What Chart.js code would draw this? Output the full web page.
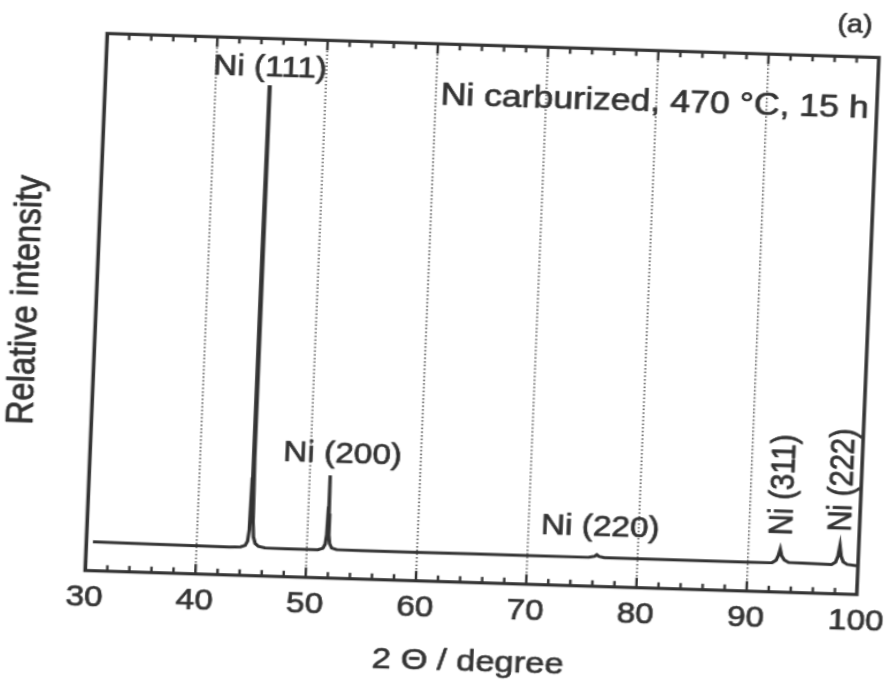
<!DOCTYPE html>
<html>
<head>
<meta charset="utf-8">
<script src="https://cdn.jsdelivr.net/npm/chart.js@4.4.1/dist/chart.umd.min.js"></script>
<style>
  html, body { margin: 0; padding: 0; background: #fff; width: 890px; height: 692px; overflow: hidden; }
  #wrap {
    position: absolute; left: 66.75px; top: -6px; width: 790px; height: 692px;
    transform-origin: 415px 320px;
    transform: scaleX(1.15) rotate(2.05deg);
  }
</style>
</head>
<body>
<div id="wrap"><canvas id="xrd" width="790" height="692"></canvas></div>
<script>
// XRD pattern of carburized Ni: 2θ (degree) and relative intensity (%)
const twoTheta = [
  30.6, 33, 36, 40, 43, 44.0, 44.4, 44.6, 44.72, 44.8, 44.84, 44.88, 44.93, 44.98, 45.04, 45.12, 45.3, 45.6, 46.2,
  48, 50, 51.0, 51.45, 51.65, 51.75, 51.81, 51.85, 51.89, 51.95, 52.05, 52.25, 52.7,
  55, 60, 65, 70, 75.6, 76.1, 76.3, 76.5, 77.0, 80, 85, 90,
  92.2, 92.55, 92.75, 92.9, 93.05, 93.3, 93.7,
  97.6, 97.95, 98.15, 98.3, 98.45, 98.65, 99.0, 99.9
];
const intensity = [
  5.4, 5.35, 5.3, 5.25, 5.2, 5.3, 5.6, 6.4, 8.5, 18, 60, 91.3, 62, 22, 10, 7.2, 6.0, 5.5, 5.25,
  5.2, 5.2, 5.2, 5.5, 6.3, 8.0, 13, 19.1, 12, 8.0, 6.4, 5.6, 5.35,
  5.3, 5.3, 5.35, 5.35, 5.4, 5.6, 5.9, 5.6, 5.4, 5.4, 5.4, 5.4,
  5.45, 5.9, 6.8, 8.0, 6.8, 6.0, 5.55,
  5.45, 5.9, 7.0, 9.0, 7.0, 6.0, 5.55, 5.35
];

// Reflections labelled on the pattern
const peakNames = ['Ni (111)', 'Ni (200)', 'Ni (220)', 'Ni (311)', 'Ni (222)'];
const peakTheta = [44.88, 51.85, 76.3, 92.9, 98.3];
const peakHeight = [91.3, 19.1, 5.9, 8.0, 9.0];

// Axis settings
const xMin = 30, xMax = 100, xMajorStep = 10, xMinorStep = 2;
const yMin = 0, yMax = 100;

const sampleLabel = 'Ni carburized, 470 °C, 15 h';
const panelLabel = '(a)';
const xTitle = '2 Θ / degree';
const yTitle = 'Relative intensity';

const INK = '#333333';
const FONT = '"Liberation Sans", Arial, Helvetica, sans-serif';
const TEXT_STROKE = 0.7;

const points = twoTheta.map((t, i) => ({ x: t, y: intensity[i] }));

// fill text and thicken it slightly with a matching stroke
function inkText(ctx, s, x, y) {
  ctx.fillText(s, x, y);
  ctx.strokeText(s, x, y);
}

const decor = {
  id: 'decor',
  beforeDatasetsDraw(chart) {
    const { ctx, chartArea: a, scales: { x } } = chart;
    ctx.save();
    ctx.strokeStyle = '#444';
    ctx.lineWidth = 1.4;
    ctx.setLineDash([1.5, 2.2]);
    for (let v = xMin + xMajorStep; v < xMax; v += xMajorStep) {
      const px = x.getPixelForValue(v);
      ctx.beginPath();
      ctx.moveTo(px, a.bottom);
      ctx.lineTo(px, a.top);
      ctx.stroke();
    }
    ctx.restore();
  },
  afterDraw(chart) {
    const { ctx, chartArea: a, scales: { x, y } } = chart;
    ctx.save();
    // inward tick marks on bottom and top axes
    ctx.strokeStyle = INK;
    ctx.lineWidth = 2.2;
    for (let v = xMin; v <= xMax + 1e-9; v += xMinorStep) {
      const px = x.getPixelForValue(v);
      const len = (v % xMajorStep === 0) ? 10 : 6;
      ctx.beginPath();
      ctx.moveTo(px, a.bottom); ctx.lineTo(px, a.bottom - len);
      ctx.moveTo(px, a.top); ctx.lineTo(px, a.top + len);
      ctx.stroke();
    }
    // frame
    ctx.lineWidth = 3.2;
    ctx.strokeRect(a.left, a.top, a.right - a.left, a.bottom - a.top);

    ctx.fillStyle = INK;
    ctx.strokeStyle = INK;
    ctx.lineWidth = TEXT_STROKE;
    ctx.lineJoin = 'round';
    ctx.textBaseline = 'middle';

    // peak labels
    const lx = i => x.getPixelForValue(peakTheta[i]);
    const ly = i => y.getPixelForValue(peakHeight[i]);
    ctx.font = '29px ' + FONT;
    ctx.textAlign = 'center';
    inkText(ctx, peakNames[0], lx(0), ly(0) - 17);
    inkText(ctx, peakNames[1], lx(1) + 10, ly(1) - 21);
    inkText(ctx, peakNames[2], lx(2) + 2, ly(2) - 27);
    for (const i of [3, 4]) {
      ctx.save();
      ctx.translate(lx(i) + 1, ly(i) - 14);
      ctx.rotate(-Math.PI / 2);
      ctx.textAlign = 'left';
      inkText(ctx, peakNames[i], 0, 0);
      ctx.restore();
    }

    // sample description
    ctx.font = '31px ' + FONT;
    ctx.textAlign = 'right';
    inkText(ctx, sampleLabel, a.right - 7, a.top + 52);

    // panel letter
    ctx.font = '25px ' + FONT;
    ctx.textAlign = 'center';
    inkText(ctx, panelLabel, a.right - 22, a.top - 31);

    // axis titles
    ctx.font = '30px ' + FONT;
    inkText(ctx, xTitle, (a.left + a.right) / 2, a.bottom + 80);
    ctx.save();
    ctx.translate(a.left - 60, (a.top + a.bottom) / 2);
    ctx.rotate(-Math.PI / 2);
    ctx.font = '33px ' + FONT;
    inkText(ctx, yTitle, 0, 0);
    ctx.restore();
    ctx.restore();
  }
};

new Chart(document.getElementById('xrd'), {
  type: 'line',
  data: {
    datasets: [{
      data: points,
      borderColor: '#333',
      borderWidth: 3,
      pointRadius: 0,
      tension: 0,
      fill: false
    }]
  },
  options: {
    responsive: false,
    animation: false,
    devicePixelRatio: 1,
    layout: { padding: { left: 79.3, right: 39.3, top: 51.3, bottom: 0 } },
    plugins: { legend: { display: false }, tooltip: { enabled: false } },
    scales: {
      x: {
        type: 'linear',
        min: xMin, max: xMax,
        afterFit(s) { s.height = 103.3; },
        grid: { display: false, drawTicks: false },
        border: { display: false },
        ticks: {
          stepSize: xMajorStep,
          padding: 10,
          color: INK,
          textStrokeColor: INK,
          textStrokeWidth: TEXT_STROKE,
          font: { family: FONT, size: 29 },
          maxRotation: 0
        }
      },
      y: { display: false, min: yMin, max: yMax }
    }
  },
  plugins: [decor]
});
</script>
</body>
</html>
